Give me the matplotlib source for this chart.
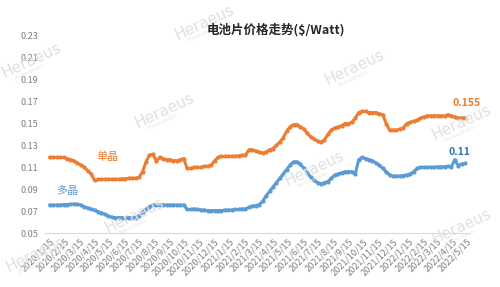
import matplotlib
matplotlib.use("Agg")
import matplotlib.pyplot as plt
import pandas as pd

plt.rcParams['font.family'] = ['Noto Sans CJK SC', 'DejaVu Sans']

start_date = "2020-01-15"
# weekly prices, $/Watt
mono = [0.119, 0.119, 0.119, 0.119, 0.119, 0.118, 0.117, 0.116, 0.114, 0.112,
        0.110, 0.107, 0.104, 0.098, 0.099, 0.099, 0.099, 0.099, 0.099, 0.099,
        0.099, 0.0995, 0.0995, 0.100, 0.100, 0.100, 0.101, 0.106, 0.115, 0.121,
        0.122, 0.116, 0.119, 0.118, 0.117, 0.117, 0.116, 0.116, 0.117, 0.118,
        0.109, 0.109, 0.110, 0.110, 0.110, 0.111, 0.111, 0.112, 0.116, 0.119,
        0.120, 0.120, 0.120, 0.120, 0.120, 0.1205, 0.121, 0.121, 0.126, 0.126,
        0.125, 0.124, 0.123, 0.124, 0.126, 0.127, 0.130, 0.133, 0.137, 0.143,
        0.147, 0.149, 0.149, 0.147, 0.145, 0.141, 0.138, 0.136, 0.134, 0.133,
        0.135, 0.140, 0.144, 0.146, 0.147, 0.148, 0.150, 0.150, 0.151, 0.155,
        0.160, 0.161, 0.161, 0.160, 0.160, 0.160, 0.159, 0.158, 0.150, 0.144,
        0.144, 0.144, 0.145, 0.146, 0.150, 0.151, 0.152, 0.153, 0.155, 0.156,
        0.157, 0.157, 0.157, 0.157, 0.157, 0.157, 0.158, 0.157, 0.156, 0.155,
        0.155, 0.155]
poly = [0.0755, 0.0755, 0.0755, 0.0755, 0.076, 0.076, 0.0762, 0.0765, 0.0762, 0.0755,
        0.074, 0.073, 0.072, 0.071, 0.0695, 0.0685, 0.067, 0.0655, 0.0645, 0.064,
        0.064, 0.064, 0.064, 0.064, 0.064, 0.064, 0.066, 0.069, 0.072, 0.074,
        0.0755, 0.0755, 0.0757, 0.0757, 0.0755, 0.0755, 0.0755, 0.0755, 0.0755, 0.0755,
        0.0715, 0.0715, 0.072, 0.0715, 0.071, 0.071, 0.0705, 0.0705, 0.0705, 0.0705,
        0.0705, 0.071, 0.071, 0.071, 0.0715, 0.0715, 0.072, 0.072, 0.0735, 0.0745,
        0.075, 0.076, 0.079, 0.084, 0.088, 0.092, 0.096, 0.100, 0.104, 0.108,
        0.112, 0.115, 0.115, 0.113, 0.109, 0.105, 0.101, 0.098, 0.096, 0.095,
        0.096, 0.097, 0.100, 0.103, 0.104, 0.105, 0.106, 0.106, 0.106, 0.104,
        0.117, 0.119, 0.118, 0.117, 0.116, 0.114, 0.112, 0.109, 0.106, 0.103,
        0.102, 0.102, 0.102, 0.1025, 0.103, 0.104, 0.106, 0.109, 0.110, 0.110,
        0.110, 0.110, 0.110, 0.1105, 0.1105, 0.1105, 0.111, 0.1105, 0.117, 0.1115,
        0.113, 0.1135]
tick_labels = ["2020/1/15", "2020/2/15", "2020/3/15", "2020/4/15", "2020/5/15", "2020/6/15",
               "2020/7/15", "2020/8/15", "2020/9/15", "2020/10/15", "2020/11/15", "2020/12/15",
               "2021/1/15", "2021/2/15", "2021/3/15", "2021/4/15", "2021/5/15", "2021/6/15",
               "2021/7/15", "2021/8/15", "2021/9/15", "2021/10/15", "2021/11/15", "2021/12/15",
               "2022/1/15", "2022/2/15", "2022/3/15", "2022/4/15", "2022/5/15"]
y_ticks = [0.05, 0.07, 0.09, 0.11, 0.13, 0.15, 0.17, 0.19, 0.21, 0.23]

dates = pd.date_range(start_date, periods=len(mono), freq="7D")
tick_dates = pd.to_datetime(tick_labels, format="%Y/%m/%d")

ORANGE = "#ED7D31"
BLUE = "#5B9BD5"

fig = plt.figure(figsize=(5, 2.87), dpi=100)
ax = fig.add_axes([0.09, 0.188, 0.85, 0.687])

ax.plot(dates, mono, color=ORANGE, lw=2.2, marker="o", ms=3.0, mew=0, zorder=3)
ax.plot(dates, poly, color=BLUE, lw=2.2, marker="o", ms=3.0, mew=0, zorder=3)

ax.set_ylim(0.05, 0.23)
ax.set_yticks(y_ticks)
ax.set_yticklabels([f"{v:.2f}" for v in y_ticks])
ax.set_xlim(pd.Timestamp("2020-01-05"), pd.Timestamp("2022-05-21"))
ax.set_xticks(tick_dates)
ax.set_xticklabels(tick_labels, rotation=45, ha="right", rotation_mode="anchor")

for s in ["top", "right", "left"]:
    ax.spines[s].set_visible(False)
ax.spines["bottom"].set_color("#d9d9d9")
ax.tick_params(axis="both", length=0, colors="#7f7f7f", labelsize=6.5)
ax.tick_params(axis="y", pad=5)
ax.tick_params(axis="x", pad=3)

fig.text(0.552, 0.895, "电池片价格走势($/Watt)", ha="center", va="center",
         fontsize=9, fontweight="bold", color="#262626")

ax.text(pd.Timestamp("2020-05-12"), 0.1195, "单晶", color=ORANGE, fontsize=8,
        ha="center", va="center")
ax.text(pd.Timestamp("2020-02-19"), 0.0884, "多晶", color=BLUE, fontsize=8,
        ha="center", va="center")
ax.text(pd.Timestamp("2022-05-15"), 0.1688, "0.155", color=ORANGE, fontsize=7.5,
        ha="center", va="center", fontweight="bold")
ax.text(pd.Timestamp("2022-04-29"), 0.124, "0.11", color="#2E75B6", fontsize=7.5,
        ha="center", va="center", fontweight="bold")

# faint watermarks
wm = [(32, 60), (205, 22), (165, 110), (355, 67), (315, 168), (135, 215),
      (462, 226), (462, 122), (36, 254)]
for (px, py) in wm:
    fig.text(px / 500, 1 - py / 287, "Heraeus", fontsize=11, color="#e0e0e0",
             rotation=25, ha="center", va="center", zorder=0, family="DejaVu Sans")
    fig.text(px / 500 - 0.004, 1 - (py + 12) / 287, "Photovoltaics", fontsize=3.5,
             color="#e6e6e6", rotation=25, ha="center", va="center", zorder=0,
             family="DejaVu Sans")

fig.savefig("out.png", dpi=100)
